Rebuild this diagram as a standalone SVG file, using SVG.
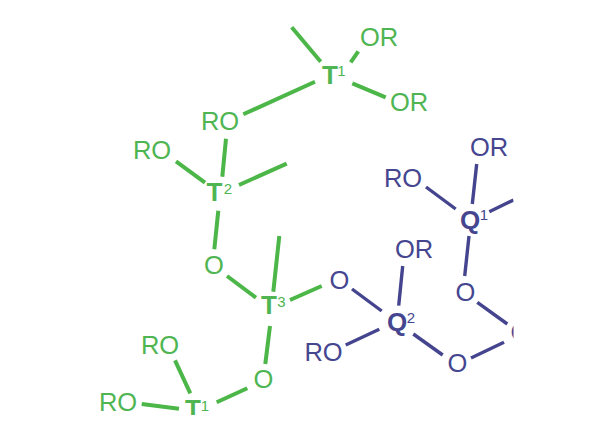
<svg xmlns="http://www.w3.org/2000/svg" width="600" height="430" viewBox="0 0 600 430">
<style>
text{font-family:"Liberation Sans",Arial,sans-serif;font-size:25.5px;text-anchor:middle}
.g{fill:#4fb552}.b{fill:#45468f}
.c{font-weight:bold;font-size:26px}
.s{font-size:15px}
#green-bonds line{stroke:#4cb748;stroke-width:4;stroke-linecap:butt}
#blue-bonds line{stroke:#45458f;stroke-width:3.4;stroke-linecap:butt}
</style>
<defs>
<clipPath id="bottom"><rect x="0" y="0" width="600" height="415"/></clipPath>
<clipPath id="right"><rect x="0" y="0" width="513.5" height="430"/></clipPath>
</defs>
<rect width="600" height="430" fill="#fff"/>
<g id="connectors">
<g id="green-bonds">
<line x1="291.7" y1="27.3" x2="320.7" y2="61.7"/>
<line x1="350.7" y1="62.3" x2="358.3" y2="51.3"/>
<line x1="352.3" y1="83.3" x2="385.7" y2="97.3"/>
<line x1="315" y1="81.7" x2="243.3" y2="114.3"/>
<line x1="226" y1="138.7" x2="222.3" y2="176.7"/>
<line x1="176" y1="161.3" x2="205" y2="182.7"/>
<line x1="239" y1="185" x2="286.7" y2="163.7"/>
<line x1="218.3" y1="210.7" x2="214.3" y2="249.3"/>
<line x1="227" y1="276" x2="256" y2="297.7"/>
<line x1="279.3" y1="236" x2="273.3" y2="291.7"/>
<line x1="290" y1="300" x2="321.7" y2="286"/>
<line x1="270" y1="326" x2="265.3" y2="364"/>
<line x1="247.3" y1="388.3" x2="216.7" y2="402.3"/>
<line x1="175" y1="360.3" x2="190.3" y2="393.3"/>
<line x1="141.7" y1="404" x2="179" y2="408.7"/>
</g>
<g id="blue-bonds" clip-path="url(#right)">
<line x1="476.7" y1="164" x2="472.3" y2="204"/>
<line x1="426" y1="187" x2="455.7" y2="209"/>
<line x1="489.3" y1="211.7" x2="513.5" y2="200"/>
<line x1="469" y1="236" x2="464.7" y2="276"/>
<line x1="477.3" y1="302.3" x2="507.3" y2="324"/>
<line x1="504" y1="342.3" x2="471" y2="358"/>
<line x1="442.7" y1="355" x2="413.3" y2="334"/>
<line x1="402.7" y1="266" x2="398.7" y2="305.7"/>
<line x1="352" y1="289" x2="381.7" y2="311"/>
<line x1="379.3" y1="329.3" x2="345.7" y2="345"/>
</g>
</g>
<g id="t1-top"><text class="g c" x="330" y="84">T</text><text class="g s" x="341.500" y="76">1</text></g>
<g id="or-t1a"><text class="g" x="379" y="45.500">OR</text></g>
<g id="or-t1b"><text class="g" x="409" y="110.500">OR</text></g>
<g id="ro-t1"><text class="g" x="220" y="129.500">RO</text></g>
<g id="ro-t2"><text class="g" x="152" y="158.500">RO</text></g>
<g id="t2"><text class="g c" x="214.500" y="201">T</text><text class="g s" x="228" y="194">2</text></g>
<g id="o-t2"><text class="g" x="214" y="274">O</text></g>
<g id="t3"><text class="g c" x="269" y="314">T</text><text class="g s" x="281.500" y="307">3</text></g>
<g id="o-t3"><text class="g" x="263.500" y="387.500">O</text></g>
<g id="ro-t1b-a"><text class="g" x="160" y="353.500">RO</text></g>
<g id="ro-t1b-b"><text class="g" x="118" y="410.500">RO</text></g>
<g id="t1-bottom" clip-path="url(#bottom)"><text class="g c" x="193" y="417.500">T</text><text class="g s" x="205" y="411">1</text></g>
<g id="or-q1"><text class="b" x="489" y="155.500">OR</text></g>
<g id="ro-q1"><text class="b" x="403" y="186.500">RO</text></g>
<g id="q1"><text class="b c" x="470" y="229">Q</text><text class="b s" x="484" y="220">1</text></g>
<g id="o-q1"><text class="b" x="465.500" y="300.500">O</text></g>
<g id="o-clipped" clip-path="url(#right)"><text class="b" x="520.500" y="341">O</text></g>
<g id="o-q2-right"><text class="b" x="457.500" y="372">O</text></g>
<g id="q2"><text class="b c" x="397" y="331">Q</text><text class="b s" x="411" y="323">2</text></g>
<g id="or-q2"><text class="b" x="414" y="258">OR</text></g>
<g id="o-q2-left"><text class="b" x="339.500" y="289">O</text></g>
<g id="ro-q2"><text class="b" x="323.500" y="360.500">RO</text></g>
</svg>
